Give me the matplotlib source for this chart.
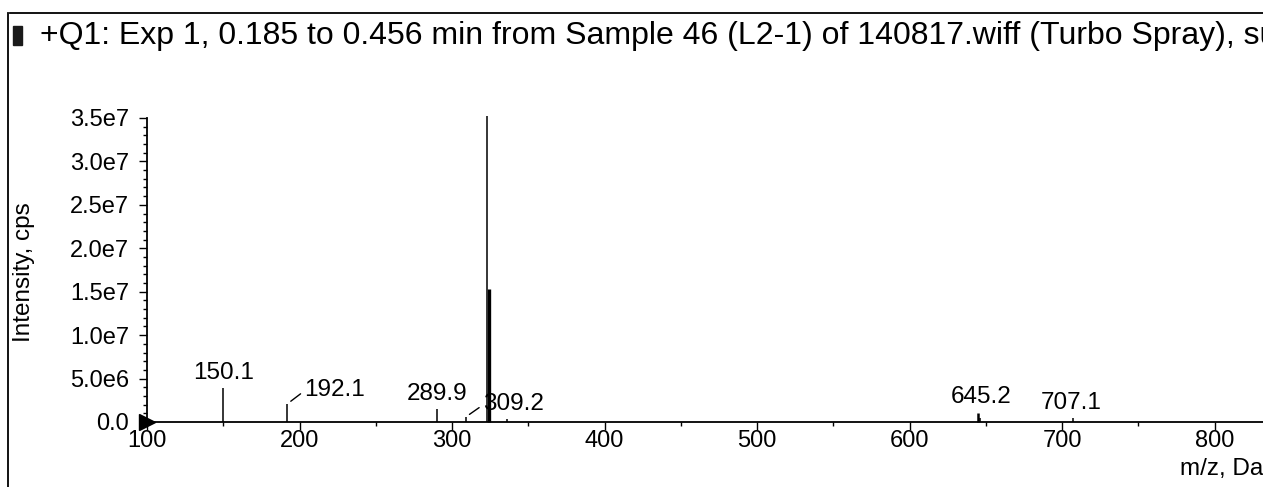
import numpy as np
import matplotlib
matplotlib.use("Agg")
import matplotlib.pyplot as plt
from matplotlib.lines import Line2D
from matplotlib.patches import Rectangle
from matplotlib.ticker import MultipleLocator

plt.rcParams['font.family'] = ['Liberation Sans', 'DejaVu Sans']

# peak list
mz = [150.1, 192.1, 289.9, 309.2, 323.2, 324.2, 336.0, 645.2, 646.2, 707.1]
intensity = [3.9e6, 2.1e6, 1.5e6, 0.6e6, 3.52e7, 1.53e7, 0.35e6, 1.0e6, 0.5e6, 0.5e6]
labelled = ['150.1', '192.1', '289.9', '309.2', '323.2', '645.2', '707.1']

title = "+Q1: Exp 1, 0.185 to 0.456 min from Sample 46 (L2-1) of 140817.wiff (Turbo Spray), sub"
x_ticks = [100, 200, 300, 400, 500, 600, 700, 800]
y_ticks = [0, 5e6, 1e7, 1.5e7, 2e7, 2.5e7, 3e7, 3.5e7]
y_ticklabels = ['0.0', '5.0e6', '1.0e7', '1.5e7', '2.0e7', '2.5e7', '3.0e7', '3.5e7']

W, H = 1263, 487
fig = plt.figure(figsize=(W / 100, H / 100), dpi=100)
fig.patch.set_facecolor('white')

# axes box in pixels: left 147, right edge of image, top 118, bottom 422
ax = fig.add_axes([147 / W, 1 - 422 / H, 1 - 147 / W, (422 - 118) / H])
ax.set_xlim(100, 100 + (W - 147) / 1.525)
ax.set_ylim(0, 3.5e7)

widths = {'324.2': 2.4, '645.2': 1.8}
for m, v in zip(mz, intensity):
    ax.vlines(m, 0, v, color='black', lw=widths.get(f'{m:.1f}', 1.1), clip_on=False)

# label offsets in pixels (dx, dy, leader line)
offsets = {'150.1': (0, 4, False), '192.1': (17, 14, True), '289.9': (0, 4, False),
           '309.2': (17, 13, True), '323.2': (0, 4, False), '645.2': (3, 5, False),
           '707.1': (-2, 4, False)}
for m, v in zip(mz, intensity):
    key = f'{m:.1f}'
    if key not in labelled:
        continue
    dx, dy, leader = offsets[key]
    if leader:
        ax.annotate(key, xy=(m, v), xytext=(dx, dy), textcoords='offset pixels',
                    ha='left', va='center', fontsize=17.5,
                    arrowprops=dict(arrowstyle='-', lw=1, shrinkA=1, shrinkB=3,
                                    relpos=(0, 0.45)))
    else:
        ax.annotate(key, xy=(m, v), xytext=(dx, dy), textcoords='offset pixels',
                    ha='center', va='bottom', fontsize=17.5)

ax.set_xticks(x_ticks)
ax.set_yticks(y_ticks)
ax.xaxis.set_minor_locator(MultipleLocator(50))
ax.yaxis.set_minor_locator(MultipleLocator(1e6))
ax.set_yticklabels(y_ticklabels)
ax.tick_params(axis='both', which='major', length=6, width=1, labelsize=17)
ax.tick_params(axis='both', which='minor', length=3, width=1)
ax.tick_params(axis='x', which='major', pad=0)
ax.tick_params(axis='y', which='major', pad=7)
for s in ['top', 'right']:
    ax.spines[s].set_visible(False)
for s in ['left', 'bottom']:
    ax.spines[s].set_linewidth(1.3)
ax.plot([100], [0], marker='>', color='black', markersize=11, clip_on=False)

# frame lines and header
fig.add_artist(Line2D([10 / W, 1], [1 - 13 / H, 1 - 13 / H], color='black', lw=1.3))
fig.add_artist(Line2D([8 / W, 8 / W], [0, 1 - 13 / H], color='black', lw=1.3))
fig.add_artist(Rectangle((13 / W, 1 - 45 / H), 9 / W, 19 / H, color='#1a1a1a'))
fig.text(40 / W, 1 - 36 / H, title, fontsize=23, ha='left', va='center')
fig.text(24 / W, 1 - 272 / H, 'Intensity, cps', fontsize=17.5, rotation=90,
         ha='center', va='center')
fig.text(1180 / W, 1 - 469 / H, 'm/z, Da', fontsize=17.5, ha='left', va='center')

fig.savefig('out.png', dpi=100, facecolor='white')
